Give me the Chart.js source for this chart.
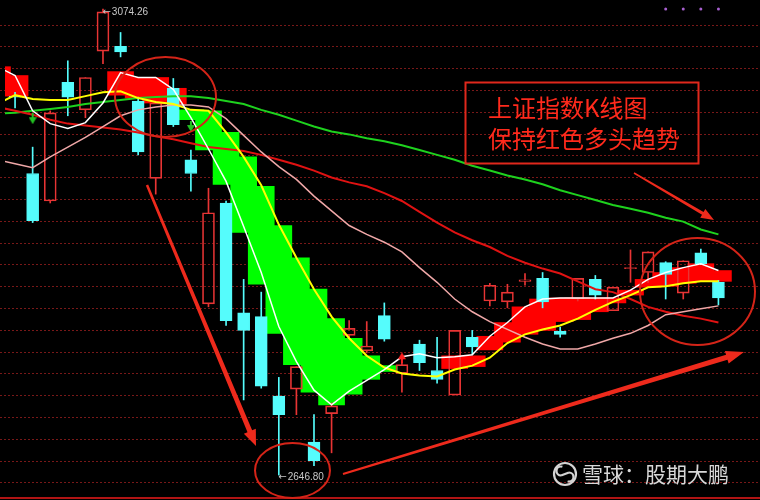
<!DOCTYPE html>
<html><head><meta charset="utf-8">
<script src="https://cdn.jsdelivr.net/npm/chart.js@4/dist/chart.umd.min.js"></script>
<style>html,body{margin:0;padding:0;background:#000;overflow:hidden}canvas{display:block}</style>
</head><body>
<canvas id="c" width="760" height="500"></canvas>
<script>
// ---- data (day -1 .. 40) ----
const days  = [-1,0,1,2,3,4,5,6,7,8,9,10,11,12,13,14,15,16,17,18,19,20,21,22,23,24,25,26,27,28,29,30,31,32,33,34,35,36,37,38,39,40];
const open  = [null,2994.4,2923.4,2898.2,3007.0,2981.8,3035.7,3040.2,2989.9,2918.9,3001.6,2936.0,2803.8,2896.4,2795.7,2792.1,2719.3,2725.6,2677.0,2703.1,2775.0,2760.7,2793.0,2740.0,2767.0,2742.7,2720.2,2773.2,2806.5,2805.6,2824.5,2827.2,2778.6,2808.3,2826.3,2797.5,2836.2,2832.6,2841.6,2813.7,2850.6,2823.6];
const high  = [null,2998.0,2947.6,2980.9,3026.8,3011.5,3074.26,3052.8,2993.5,2989.9,3010.6,2945.0,2909.9,2898.2,2826.3,2814.6,2736.4,2746.3,2702.2,2713.0,2788.5,2787.6,2804.7,2749.9,2770.5,2773.2,2779.5,2779.5,2822.7,2821.8,2831.7,2832.6,2782.2,2827.2,2829.9,2819.1,2853.3,2851.5,2842.5,2843.4,2854.2,2825.4];
const low   = [null,2983.6,2878.4,2896.4,2976.4,2974.6,3024.1,3030.4,2940.5,2904.5,2966.5,2907.2,2801.1,2784.0,2715.7,2726.5,2646.80,2702.2,2655.5,2667.2,2772.3,2758.9,2769.6,2722.9,2742.7,2731.0,2720.2,2757.1,2802.0,2800.2,2820.9,2800.2,2773.2,2806.5,2808.3,2797.5,2823.6,2823.6,2808.3,2808.3,2839.8,2802.9];
const close = [null,2993.5,2880.2,2979.1,2993.5,3011.5,3071.7,3034.9,2943.2,2988.1,2968.3,2923.4,2887.4,2788.5,2779.5,2728.3,2702.2,2746.3,2660.0,2710.3,2781.3,2765.2,2771.4,2748.1,2749.9,2734.6,2779.5,2764.3,2820.9,2814.6,2825.8,2805.6,2775.9,2827.2,2811.9,2819.1,2837.1,2851.5,2830.8,2843.4,2840.7,2809.2];

const ma5   = [3021.4,3013.3,2980.9,2969.2,2964.7,2970.1,2988.1,3016.0,3011.5,3011.5,3000.7,2974.6,2945.9,2916.2,2874.8,2832.6,2783.1,2750.8,2724.7,2711.2,2723.8,2733.7,2743.6,2755.3,2758.0,2754.4,2755.3,2757.1,2774.1,2786.7,2801.1,2808.3,2809.2,2809.2,2809.2,2809.2,2816.4,2826.3,2832.6,2837.1,2840.7,2834.4];
const ma10  = [2987.2,2995.3,2991.7,2990.8,2990.8,2994.4,2998.0,2998.9,2992.6,2989.0,2987.2,2981.8,2980.9,2961.1,2938.7,2912.6,2876.6,2846.1,2817.3,2792.1,2772.3,2756.2,2745.4,2740.0,2738.2,2737.3,2743.6,2747.2,2754.4,2767.9,2775.9,2780.4,2784.0,2790.3,2798.4,2805.6,2811.9,2819.1,2820.0,2822.7,2824.5,2824.5];
const ma20  = [2936.0,2932.4,2928.8,2938.7,2947.7,2956.6,2966.5,2976.4,2981.8,2984.5,2986.3,2986.3,2984.5,2973.7,2958.4,2943.2,2929.7,2918.0,2902.7,2889.2,2875.7,2867.6,2860.4,2851.5,2837.1,2823.6,2808.3,2796.6,2787.6,2780.4,2773.2,2767.0,2762.5,2762.5,2767.0,2772.3,2776.8,2784.0,2793.9,2796.6,2799.3,2802.0];
const ma30  = [2984.5,2980.9,2977.3,2972.8,2969.2,2967.4,2965.6,2963.8,2961.1,2957.5,2954.8,2951.2,2947.7,2945.9,2944.1,2940.5,2936.0,2931.5,2926.1,2919.8,2915.3,2911.7,2905.4,2898.2,2888.3,2878.4,2869.4,2862.2,2856.0,2847.9,2841.6,2836.2,2831.7,2824.5,2817.3,2814.6,2808.3,2801.1,2796.6,2793.0,2790.3,2786.7];
const ma60  = [2978.2,2979.1,2980.9,2982.7,2984.5,2987.2,2989.0,2990.8,2992.6,2993.5,2994.4,2994.4,2992.6,2989.9,2987.2,2981.8,2977.3,2971.9,2966.5,2962.0,2959.3,2955.7,2953.0,2949.4,2945.0,2940.5,2936.0,2930.6,2926.1,2921.6,2918.0,2913.5,2908.1,2903.6,2899.1,2894.6,2891.0,2887.4,2882.9,2879.3,2872.1,2867.6];

const bandFast = [3021.4,3013.3,null,null,null,null,null,3016.9,3011.5,3011.5,3001.6,2972.8,2945.0,2913.5,2869.4,2821.8,2776.8,2748.1,2722.9,2711.2,2721.1,2734.6,2741.8,null,null,null,2756.2,2756.2,2774.1,2786.7,2801.1,2808.3,2809.2,2809.2,2809.2,2809.2,2816.4,2826.3,2832.6,2837.1,2840.7,2834.4];
const bandSlow = [2998.9,2994.4,null,null,null,null,null,2995.3,2992.6,2988.1,2987.2,2981.8,2980.9,2961.1,2938.7,2911.7,2875.7,2846.1,2817.3,2790.3,2772.3,2756.2,2747.2,null,null,null,2744.5,2746.3,2761.6,2768.7,2775.9,2779.5,2787.6,2789.4,2796.6,2804.7,2811.9,2819.1,2820.0,2822.7,2824.5,2824.5];

const sellDays = [1,10];       const sellLevels = [2973.7,2966.5];
const buyDays  = [22];         const buyLevels  = [2754.4];
const dotDays  = [37,38,39,40]; const dotLevels = [3074.4,3074.4,3074.4,3074.4];

const gridLevels = [2640,2660,2680,2700,2720,2740,2760,2780,2800,2820,2840,2860,2880,2900,2920,2940,2960,2980,3000,3020,3040,3060];
const titleLines = ['上证指数K线图','保持红色多头趋势'];
const watermark = '雪球：股期大鹏';

// ---- styles ----
const UP = '#e83434', DOWN = '#55fcfc';
const BAND_UP = '#ff0000', BAND_DN = '#00ff00';
const ANN = '#ee2a1c';

// ---- build element data ----
const candles = [];
days.forEach((d,i)=>{ if(open[i]!=null) candles.push({d,o:open[i],h:high[i],l:low[i],c:close[i],up:close[i]>=open[i]}); });
const bodyData  = candles.map(k=>({x:k.d,y:[k.o,k.c],up:k.up}));
const upWick    = candles.map(k=>({x:k.d,y:[Math.max(k.o,k.c),k.h],up:k.up}));
const loWick    = candles.map(k=>({x:k.d,y:[k.l,Math.min(k.o,k.c)],up:k.up}));
const bandData = [];
days.forEach((d,i)=>{ if(bandFast[i]!=null) bandData.push({x:d,y:[bandSlow[i],bandFast[i]],up:bandFast[i]>bandSlow[i]}); });
const line = arr => days.map((d,i)=>({x:d,y:arr[i]}));
const pts = (ds,vs) => ds.map((d,i)=>({x:d,y:vs[i]}));

function makeArrow(color, down){
  const cv=document.createElement('canvas'); cv.width=8; cv.height=11;
  const g=cv.getContext('2d'); g.fillStyle=color;
  if(down){ g.fillRect(3,0,2,5); g.beginPath(); g.moveTo(0,4); g.lineTo(8,4); g.lineTo(4,11); g.closePath(); g.fill(); }
  else { g.fillRect(3,6,2,5); g.beginPath(); g.moveTo(0,7); g.lineTo(8,7); g.lineTo(4,0); g.closePath(); g.fill(); }
  return cv;
}

const bgPlugin = {id:'bg', beforeDraw(chart){ const c=chart.ctx; c.save(); c.fillStyle='#000'; c.fillRect(0,0,chart.width,chart.height); c.restore(); }};
const gridPlugin = {id:'grid', beforeDatasetsDraw(chart){
  const {ctx, scales:{y}} = chart; ctx.save();
  ctx.strokeStyle='#781818'; ctx.lineWidth=1; ctx.setLineDash([2,2]);
  gridLevels.forEach(v=>{ const py=Math.round(y.getPixelForValue(v))+0.5; ctx.beginPath(); ctx.moveTo(0,py); ctx.lineTo(chart.width,py); ctx.stroke(); });
  ctx.setLineDash([]); ctx.fillStyle='#b01414'; ctx.fillRect(0,497,chart.width,2);
  ctx.restore();
}};

function arrow(ctx,x1,y1,x2,y2,w1,w2,hl,hw){
  const dx=x2-x1, dy=y2-y1, L=Math.hypot(dx,dy), ux=dx/L, uy=dy/L, nx=-uy, ny=ux;
  const bx=x2-ux*hl, by=y2-uy*hl;
  ctx.beginPath();
  ctx.moveTo(x1+nx*w1/2,y1+ny*w1/2);
  ctx.lineTo(bx+nx*w2/2,by+ny*w2/2);
  ctx.lineTo(bx+nx*hw/2,by+ny*hw/2);
  ctx.lineTo(x2,y2);
  ctx.lineTo(bx-nx*hw/2,by-ny*hw/2);
  ctx.lineTo(bx-nx*w2/2,by-ny*w2/2);
  ctx.lineTo(x1-nx*w1/2,y1-ny*w1/2);
  ctx.closePath(); ctx.fill();
}

function extremeLabel(ctx, px, py, value){
  ctx.fillStyle='#c8c8c8'; ctx.textBaseline='middle'; ctx.textAlign='left';
  ctx.font='10px "DejaVu Sans", sans-serif';
  ctx.fillText('←', px, py);
  const w = ctx.measureText('←').width;
  ctx.font='10px "Liberation Sans", sans-serif';
  ctx.fillText(value.toFixed(2), px + w + 1, py);
}

const annPlugin = {id:'ann', afterDatasetsDraw(chart){
  const {ctx, scales:{x,y}} = chart; ctx.save();
  // high / low labels
  let hi=0, lo=0;
  candles.forEach((k,i)=>{ if(k.h>candles[hi].h) hi=i; if(k.l<candles[lo].l) lo=i; });
  extremeLabel(ctx, x.getPixelForValue(candles[hi].d)-0.5, y.getPixelForValue(candles[hi].h)+3, candles[hi].h);
  extremeLabel(ctx, x.getPixelForValue(candles[lo].d)-0.5, y.getPixelForValue(candles[lo].l)+2, candles[lo].l);
  // ellipses
  ctx.strokeStyle='#d42418'; ctx.lineWidth=2;
  [[165.5,97,50.5,40],[292.5,470.5,37.5,27.5],[697.5,291.5,57.5,53.5]].forEach(e=>{ ctx.beginPath(); ctx.ellipse(e[0],e[1],e[2],e[3],0,0,Math.PI*2); ctx.stroke(); });
  // arrows
  ctx.fillStyle=ANN;
  arrow(ctx,147,185,256,446,2.5,5,16,13);
  arrow(ctx,343,474,744,352,2,5,18,13);
  arrow(ctx,634,173,714,220,1.5,3,13,10);
  // text box
  ctx.strokeStyle='#e0281c'; ctx.lineWidth=2; ctx.strokeRect(465.5,82.5,233,81);
  ctx.fillStyle='#ff2a1c'; ctx.font='24px "Noto Sans CJK SC", sans-serif'; ctx.textBaseline='middle'; ctx.textAlign='left';
  ctx.fillText(titleLines[0],488,108); ctx.fillText(titleLines[1],488,139);
  // watermark
  ctx.strokeStyle='#d4d4d4'; ctx.lineWidth=2.2;
  ctx.beginPath(); ctx.arc(565,474,11,0,Math.PI*2); ctx.stroke();
  ctx.beginPath(); ctx.arc(561,471,4.5,Math.PI*0.5,Math.PI*1.6); ctx.stroke();
  ctx.beginPath(); ctx.arc(569,477,4.5,Math.PI*1.5,Math.PI*0.6); ctx.stroke();
  ctx.beginPath(); ctx.moveTo(561,475.5); ctx.lineTo(569,472.5); ctx.stroke();
  ctx.fillStyle='#d8d8d8'; ctx.font='21px "Noto Sans CJK SC", sans-serif'; ctx.textBaseline='middle';
  ctx.fillText(watermark,582,474);
  ctx.restore();
}};

const mkLine = (data,color,w,order)=>({type:'line',data,borderColor:color,borderWidth:w,pointRadius:0,tension:0,fill:false,order});

new Chart(document.getElementById('c'),{
  type:'bar',
  data:{datasets:[
    {type:'bar',data:bandData,barThickness:26,grouped:false,borderWidth:0,order:50,
     backgroundColor:c=>c.raw&&c.raw.up?BAND_UP:BAND_DN},
    {type:'bar',data:upWick,barThickness:1,grouped:false,borderWidth:0,order:45,
     backgroundColor:c=>c.raw&&c.raw.up?UP:DOWN},
    {type:'bar',data:loWick,barThickness:1,grouped:false,borderWidth:0,order:44,
     backgroundColor:c=>c.raw&&c.raw.up?UP:DOWN},
    {type:'bar',data:bodyData,barThickness:12,grouped:false,borderWidth:1,borderSkipped:false,order:40,
     backgroundColor:c=>c.raw&&c.raw.up?'rgba(0,0,0,0)':DOWN,
     borderColor:c=>c.raw&&c.raw.up?UP:DOWN},
    mkLine(line(ma60),'#1ed21e',2,30),
    mkLine(line(ma30),'#e01212',2,29),
    mkLine(line(ma20),'#f0a8a8',1.5,28),
    mkLine(line(ma10),'#ffff00',2,27),
    mkLine(line(ma5),'#ffffff',1.5,26),
    {type:'scatter',data:pts(sellDays,sellLevels),pointStyle:makeArrow('#22c022',true),order:10},
    {type:'scatter',data:pts(buyDays,buyLevels),pointStyle:makeArrow('#ff2020',false),order:10},
    {type:'scatter',data:pts(dotDays,dotLevels),pointRadius:1.5,backgroundColor:'#a860d0',borderWidth:0,order:10}
  ]},
  options:{
    responsive:false, animation:false, devicePixelRatio:1,
    layout:{padding:0},
    plugins:{legend:{display:false},tooltip:{enabled:false}},
    scales:{
      x:{type:'linear',min:-0.572,max:42.08,display:false,offset:false},
      y:{type:'linear',min:2628.5,max:3078.0,display:false}
    }
  },
  plugins:[bgPlugin,gridPlugin,annPlugin]
});
</script>
</body></html>
